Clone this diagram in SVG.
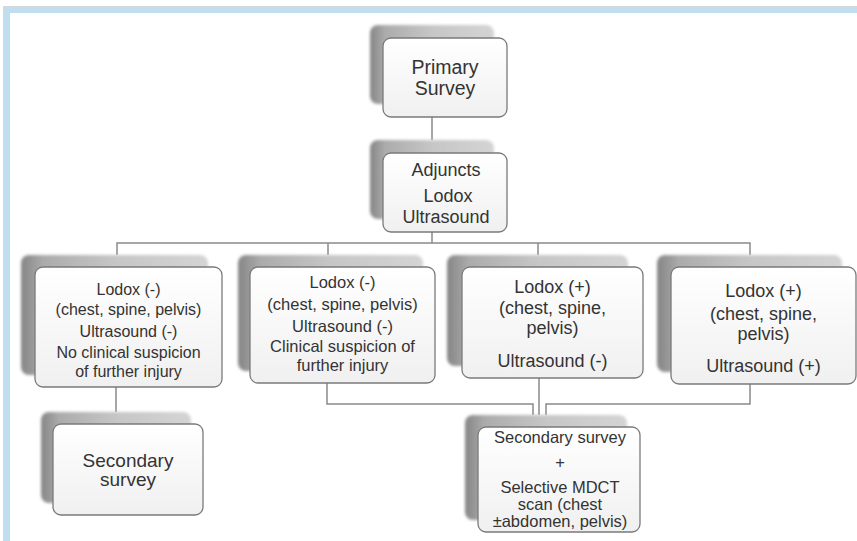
<svg xmlns="http://www.w3.org/2000/svg" width="857" height="541" viewBox="0 0 857 541">
<defs>
<linearGradient id="shd" x1="0" y1="0" x2="1" y2="0">
<stop offset="0" stop-color="#858585"/>
<stop offset="0.12" stop-color="#ababab"/>
<stop offset="0.5" stop-color="#c6c6c6"/>
<stop offset="1" stop-color="#d4d4d4"/>
</linearGradient>
<linearGradient id="box" x1="0" y1="0" x2="0" y2="1">
<stop offset="0" stop-color="#ffffff"/>
<stop offset="1" stop-color="#f0f0f0"/>
</linearGradient>
<filter id="blur" x="-10%" y="-10%" width="120%" height="120%">
<feGaussianBlur stdDeviation="1.5"/>
</filter>
</defs>
<style>
.shadow{fill:url(#shd);filter:url(#blur)}
.card{fill:url(#box);stroke:#7a7a7a;stroke-width:1.3}
.lbl{font-family:"Liberation Sans",Arial,sans-serif;fill:#333333;text-anchor:middle}
.conn{fill:none;stroke:#8a8a8a;stroke-width:1.5}
</style>
<rect x="0" y="0" width="857" height="541" fill="#ffffff"/>
<g id="frame">
<rect x="3" y="7" width="854" height="6" fill="#bfdff0"/>
<line x1="3" y1="6.5" x2="857" y2="6.5" stroke="#d8d8d8" stroke-width="1"/>
<rect x="3" y="7" width="7" height="534" fill="#bfdff0"/>
</g>
<g id="connectors">
<path class="conn" d="M432 117 V140"/>
<path class="conn" d="M432 232 V243"/>
<path class="conn" d="M117 255 V243 H750 V255"/>
<path class="conn" d="M328 243 V255"/>
<path class="conn" d="M538 243 V255"/>
<path class="conn" d="M116 387 V412"/>
<path class="conn" d="M327 383 V404 H533 V415"/>
<path class="conn" d="M539 378 V415"/>
<path class="conn" d="M750 384 V404 H546 V415"/>
</g>
<g id="primary">
<rect class="shadow" x="370" y="25" width="124" height="79" rx="8"/>
<rect class="card" x="383" y="38" width="124" height="79" rx="8"/>
<text class="lbl" font-size="19.5"><tspan x="445" y="74">Primary</tspan><tspan x="445" y="95">Survey</tspan></text>
</g>
<g id="adjuncts">
<rect class="shadow" x="370" y="140" width="124" height="79" rx="8"/>
<rect class="card" x="383" y="153" width="124" height="79" rx="8"/>
<text class="lbl" font-size="18"><tspan x="446" y="176">Adjuncts</tspan><tspan x="448" y="202">Lodox</tspan><tspan x="446" y="223">Ultrasound</tspan></text>
</g>
<g id="box1">
<rect class="shadow" x="21" y="255" width="187" height="120" rx="8"/>
<rect class="card" x="35" y="267" width="187" height="120" rx="8"/>
<text class="lbl" font-size="16"><tspan x="128.5" y="295">Lodox (-)</tspan><tspan x="128.5" y="315">(chest, spine, pelvis)</tspan><tspan x="128.5" y="337">Ultrasound (-)</tspan><tspan x="128.5" y="358">No clinical suspicion</tspan><tspan x="128.5" y="377">of further injury</tspan></text>
</g>
<g id="box2">
<rect class="shadow" x="238" y="255" width="185" height="116" rx="8"/>
<rect class="card" x="250" y="267" width="185" height="116" rx="8"/>
<text class="lbl" font-size="16.5"><tspan x="342.5" y="288">Lodox (-)</tspan><tspan x="342.5" y="310">(chest, spine, pelvis)</tspan><tspan x="342.5" y="332">Ultrasound (-)</tspan><tspan x="342.5" y="352">Clinical suspicion of</tspan><tspan x="342.5" y="371">further injury</tspan></text>
</g>
<g id="box3">
<rect class="shadow" x="447" y="255" width="181" height="111" rx="8"/>
<rect class="card" x="462" y="267" width="181" height="111" rx="8"/>
<text class="lbl" font-size="18"><tspan x="552.5" y="293">Lodox (+)</tspan><tspan x="552.5" y="314">(chest, spine,</tspan><tspan x="552.5" y="334">pelvis)</tspan><tspan x="552.5" y="367">Ultrasound (-)</tspan></text>
</g>
<g id="box4">
<rect class="shadow" x="657" y="255" width="185" height="117" rx="8"/>
<rect class="card" x="671" y="267" width="185" height="117" rx="8"/>
<text class="lbl" font-size="18"><tspan x="763.5" y="297">Lodox (+)</tspan><tspan x="763.5" y="320">(chest, spine,</tspan><tspan x="763.5" y="340">pelvis)</tspan><tspan x="763.5" y="372">Ultrasound (+)</tspan></text>
</g>
<g id="secondary">
<rect class="shadow" x="41" y="412" width="150" height="91" rx="8"/>
<rect class="card" x="53" y="424" width="150" height="91" rx="8"/>
<text class="lbl" font-size="19"><tspan x="128" y="467">Secondary</tspan><tspan x="128" y="486">survey</tspan></text>
</g>
<g id="mdct">
<rect class="shadow" x="465" y="415" width="162" height="105" rx="8"/>
<rect class="card" x="478" y="427" width="162" height="105" rx="8"/>
<text class="lbl" font-size="16.5"><tspan x="560" y="443">Secondary survey</tspan><tspan x="560" y="468">+</tspan><tspan x="560" y="493">Selective MDCT</tspan><tspan x="560" y="510">scan (chest</tspan><tspan x="560" y="527">±abdomen, pelvis)</tspan></text>
</g>
</svg>
